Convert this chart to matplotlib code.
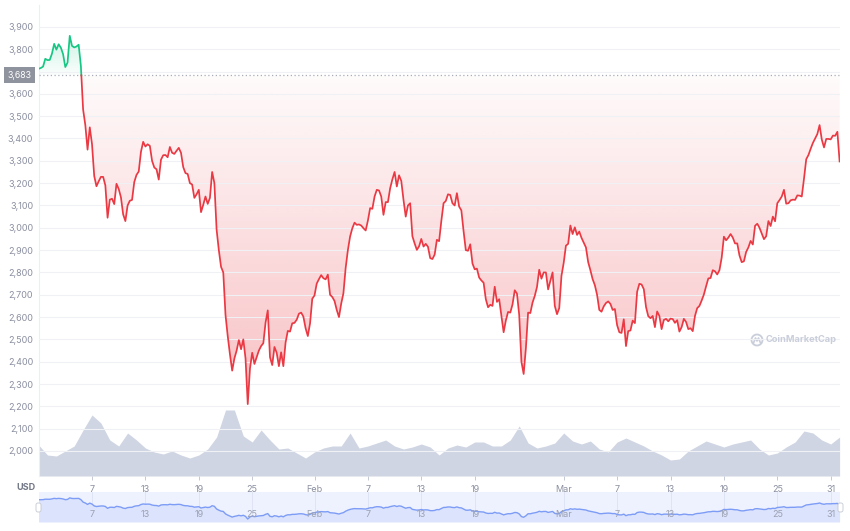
import matplotlib
matplotlib.use('Agg')
import matplotlib.pyplot as plt
import matplotlib.dates as mdates
import matplotlib.transforms as mtransforms
from matplotlib.patches import FancyBboxPatch, Circle
from matplotlib.path import Path
import numpy as np
import pandas as pd

plt.rcParams['font.family'] = ['Inter', 'DejaVu Sans']

# ETH / USD, one value every 6 hours from 2022-01-01 00:00 to 2022-04-01 00:00
base_price = 3683

jan_prices = [
    3712, 3716, 3722, 3757, 3751, 3752, 3780, 3824, 3798, 3822,
    3807, 3778, 3720, 3740, 3860, 3815, 3808, 3812, 3820, 3725,
    3530, 3460, 3350, 3450, 3375, 3232, 3186, 3208, 3228, 3228,
    3190, 3045, 3126, 3130, 3106, 3197, 3174, 3137, 3060, 3030,
    3100, 3121, 3125, 3205, 3237, 3252, 3340, 3385, 3364, 3374,
    3367, 3300, 3270, 3262, 3216, 3305, 3325, 3326, 3316, 3362,
    3336, 3331, 3345, 3358, 3336, 3272, 3245, 3241, 3200, 3194,
    3134, 3150, 3170, 3070, 3103, 3140, 3107, 3134, 3250, 3200,
    2992, 2900, 2825, 2800, 2610, 2515, 2433, 2360, 2415, 2450,
    2497, 2456, 2500, 2415, 2210, 2370, 2440, 2390, 2420, 2450,
    2470, 2483, 2575, 2630, 2420, 2385, 2466, 2440, 2380, 2442,
    2380, 2486, 2538, 2535, 2572, 2574, 2588, 2615, 2620, 2602,
    2550, 2515, 2572, 2682,
]
feb_prices = [
    2697, 2750, 2770, 2788, 2774, 2769, 2790, 2700, 2690, 2672,
    2632, 2600, 2660, 2707, 2820, 2900, 2961, 2998, 3023, 3013,
    3015, 3010, 2998, 2988, 3032, 3088, 3085, 3140, 3170, 3167,
    3140, 3058, 3115, 3115, 3177, 3217, 3250, 3185, 3235, 3210,
    3125, 3050, 3100, 3110, 2962, 2930, 2901, 2917, 2950, 2916,
    2928, 2915, 2864, 2860, 2880, 2946, 2940, 3030, 3110, 3120,
    3150, 3147, 3110, 3100, 3155, 3095, 3078, 2985, 2900, 2897,
    2926, 2840, 2814, 2817, 2777, 2764, 2754, 2680, 2644, 2655,
    2650, 2736, 2668, 2680, 2605, 2532, 2585, 2623, 2620, 2657,
    2720, 2705, 2610, 2400, 2345, 2460, 2620, 2618, 2665, 2695,
    2735, 2812, 2772, 2800, 2800, 2724, 2763, 2800, 2650, 2613,
    2640, 2785,
]
mar_prices = [
    2843, 2920, 2928, 3010, 2972, 3002, 2968, 2983, 2955, 2933,
    2912, 2846, 2810, 2770, 2743, 2700, 2632, 2624, 2648, 2663,
    2670, 2659, 2632, 2636, 2564, 2532, 2529, 2590, 2470, 2537,
    2540, 2584, 2573, 2713, 2749, 2746, 2725, 2645, 2604, 2595,
    2605, 2555, 2625, 2605, 2546, 2587, 2592, 2581, 2593, 2591,
    2574, 2586, 2535, 2555, 2592, 2578, 2546, 2550, 2537, 2605,
    2640, 2650, 2674, 2701, 2738, 2773, 2775, 2810, 2805, 2791,
    2810, 2866, 2960, 2944, 2956, 2972, 2956, 2930, 2930, 2876,
    2846, 2850, 2892, 2912, 2941, 2925, 3009, 3018, 3000, 2975,
    2949, 2962, 3030, 3008, 3050, 3029, 3110, 3124, 3140, 3170,
    3108, 3110, 3123, 3126, 3125, 3145, 3144, 3140, 3220, 3307,
    3326, 3354, 3380, 3400, 3420, 3460, 3395, 3360, 3398, 3398,
    3396, 3413, 3412, 3430, 3297,
]

# 24h volume in billions USD, one value per day
volume_bn = [
    18.6, 12.6, 12.0, 15.0, 18.0, 27.6, 36.6, 31.8, 21.6, 18.0,
    25.8, 21.6, 16.8, 14.4, 13.2, 15.0, 12.6, 10.8, 12.6, 16.2,
    23.4, 39.6, 39.6, 24.0, 20.4, 27.6, 21.6, 16.2, 16.8, 13.8,
    10.8, 14.4, 16.8, 18.0, 18.0, 25.8, 16.8, 18.0, 19.8, 21.6,
    18.0, 16.2, 17.4, 19.2, 17.4, 12.6, 16.8, 18.6, 17.4, 20.4,
    20.4, 18.0, 18.0, 21.6, 30.0, 19.8, 16.8, 18.0, 19.8, 25.8,
    21.0, 19.2, 21.0, 16.2, 14.4, 20.4, 22.8, 20.4, 18.0, 15.0,
    12.6, 9.6, 10.2, 15.0, 18.0, 21.0, 19.2, 17.4, 19.2, 20.4,
    21.6, 16.2, 12.6, 13.8, 17.4, 20.4, 27.0, 25.8, 21.6, 19.2,
    23.4,
]

y_ticks = list(range(2000, 4000, 100))
x_tick_dates = ['2022-01-07', '2022-01-13', '2022-01-19', '2022-01-25',
                '2022-02-01', '2022-02-07', '2022-02-13', '2022-02-19',
                '2022-03-01', '2022-03-07', '2022-03-13', '2022-03-19',
                '2022-03-25', '2022-03-31']
x_tick_labels = ['7', '13', '19', '25', 'Feb', '7', '13', '19',
                 'Mar', '7', '13', '19', '25', '31']

RED = '#ea3943'
GREEN = '#16c784'
GREY_TXT = '#8b90a0'

prices = np.array(jan_prices + feb_prices + mar_prices, dtype=float)
t = mdates.date2num(pd.date_range('2022-01-01', periods=len(prices), freq='6h'))
vt = mdates.date2num(pd.date_range('2022-01-01', periods=len(volume_bn), freq='D'))
xt = mdates.date2num(pd.to_datetime(x_tick_dates))

# insert the points where the line crosses the opening price
tt, pp = [t[0]], [prices[0]]
for i in range(1, len(prices)):
    a, b = prices[i - 1], prices[i]
    if (a - base_price) * (b - base_price) < 0:
        f = (base_price - a) / (b - a)
        tt.append(t[i - 1] + f * (t[i] - t[i - 1]))
        pp.append(base_price)
    tt.append(t[i])
    pp.append(b)
tt, pp = np.array(tt), np.array(pp)

W, H = 850, 531
fig = plt.figure(figsize=(W / 100, H / 100), dpi=100)
ax = fig.add_axes([38.6 / W, 55 / H, 801 / W, 471 / H])

# volume underneath
axv = ax.twinx()
axv.fill_between(vt, volume_bn, 0, color='#cfd5e2', lw=0)
axv.set_ylim(0, 282.6)
axv.axis('off')
ax.set_zorder(2)
axv.set_zorder(1)
ax.patch.set_visible(False)

ymin, ymax = 1888, 3998


def gradient(lo, hi, color, a_lo, a_hi, where):
    coll = ax.fill_between(tt, pp, base_price, where=where, interpolate=True,
                           facecolor='none', edgecolor='none')
    paths = coll.get_paths()
    if not paths:
        return
    rgba = np.zeros((256, 1, 4))
    rgba[..., :3] = matplotlib.colors.to_rgb(color)
    rgba[:, 0, 3] = np.linspace(a_lo, a_hi, 256)
    im = ax.imshow(rgba, extent=[tt[0], tt[-1], lo, hi], origin='lower',
                   aspect='auto', zorder=1, interpolation='bilinear')
    im.set_clip_path(Path.make_compound_path(*paths), transform=ax.transData)


gradient(2200, base_price, RED, 0.32, 0.02, pp <= base_price)
gradient(base_price, 3880, GREEN, 0.02, 0.24, pp >= base_price)

ax.plot(tt, np.where(pp >= base_price, pp, np.nan), color=GREEN, lw=1.25, zorder=4)
ax.plot(tt, np.where(pp <= base_price, pp, np.nan), color=RED, lw=1.25, zorder=4)
ax.axhline(base_price, color='#a9aeb8', ls=(0, (1, 2)), lw=0.9, zorder=3)

ax.set_xlim(t[0], t[-1])
ax.set_ylim(ymin, ymax)
ax.set_yticks(y_ticks)
ax.set_yticklabels(['' if v == 3700 else f'{v:,}' for v in y_ticks])
ax.grid(axis='y', color='#eff1f5', lw=0.8, zorder=2)
ax.set_axisbelow(False)
ax.set_xticks(xt)
ax.set_xticklabels(x_tick_labels)
ax.tick_params(axis='y', length=0, pad=4, labelsize=6.5, labelcolor=GREY_TXT)
ax.tick_params(axis='x', length=3, width=0.7, color='#c5c9d3', pad=3.5,
               labelsize=6.5, labelcolor=GREY_TXT)
for s in ['top', 'right', 'bottom']:
    ax.spines[s].set_visible(False)
ax.spines['left'].set_color('#eceef2')
ax.spines['left'].set_linewidth(0.8)

blend = mtransforms.blended_transform_factory(ax.transAxes, ax.transData)
ax.text(-0.0085, base_price, f'{base_price:,}', transform=blend, ha='right',
        va='center', fontsize=6.3, color='white', zorder=6, clip_on=False,
        bbox=dict(boxstyle='square,pad=0.4', fc='#8e939e', ec='none'))

fig.text(26 / W, 1 - 487 / H, 'USD', ha='center', va='center', fontsize=6.5,
         fontweight='bold', color='#737886')

# watermark
px = mtransforms.IdentityTransform()
fig.add_artist(Circle((757, H - 340), 5.5, transform=px, fill=False,
                      ec='#c9ceda', lw=1.3))
fig.add_artist(matplotlib.lines.Line2D([753.5, 755.5, 757, 758.5, 760.5],
                                       [H - 343, H - 338, H - 341, H - 338, H - 343],
                                       transform=px, color='#c9ceda', lw=1.2))
fig.text(766 / W, 1 - 340 / H, 'CoinMarketCap', ha='left', va='center',
         fontsize=6.7, fontweight='bold', color='#c9ceda')

# navigator
nav = fig.add_axes([38.6 / W, 9 / H, 801 / W, 30 / H])
nav.set_facecolor('#eef1fe')
for x in xt:
    nav.axvline(x, color='#dde2f3', lw=0.6, zorder=1)
nav.fill_between(t, prices, 1976, color='#dce3fc', lw=0, zorder=2)
nav.plot(t, prices, color='#7c9cf6', lw=1.0, zorder=3)
for x, lab in zip(xt, x_tick_labels):
    nav.text(x, 0.25, lab, transform=mtransforms.blended_transform_factory(nav.transData, nav.transAxes),
             ha='center', va='center', fontsize=6.5, color='#9ba1b2', zorder=4)
nav.set_xlim(t[0], t[-1])
nav.set_ylim(1976, 4320)
nav.set_xticks([])
nav.set_yticks([])
for s in nav.spines.values():
    s.set_visible(False)

for hx in (36, 838):
    fig.add_artist(FancyBboxPatch((hx, H - 512), 5, 9, transform=px,
                                  boxstyle='round,pad=0,rounding_size=2',
                                  fc='white', ec='#c3c8d2', lw=0.6))

fig.savefig('out.png', dpi=100)
